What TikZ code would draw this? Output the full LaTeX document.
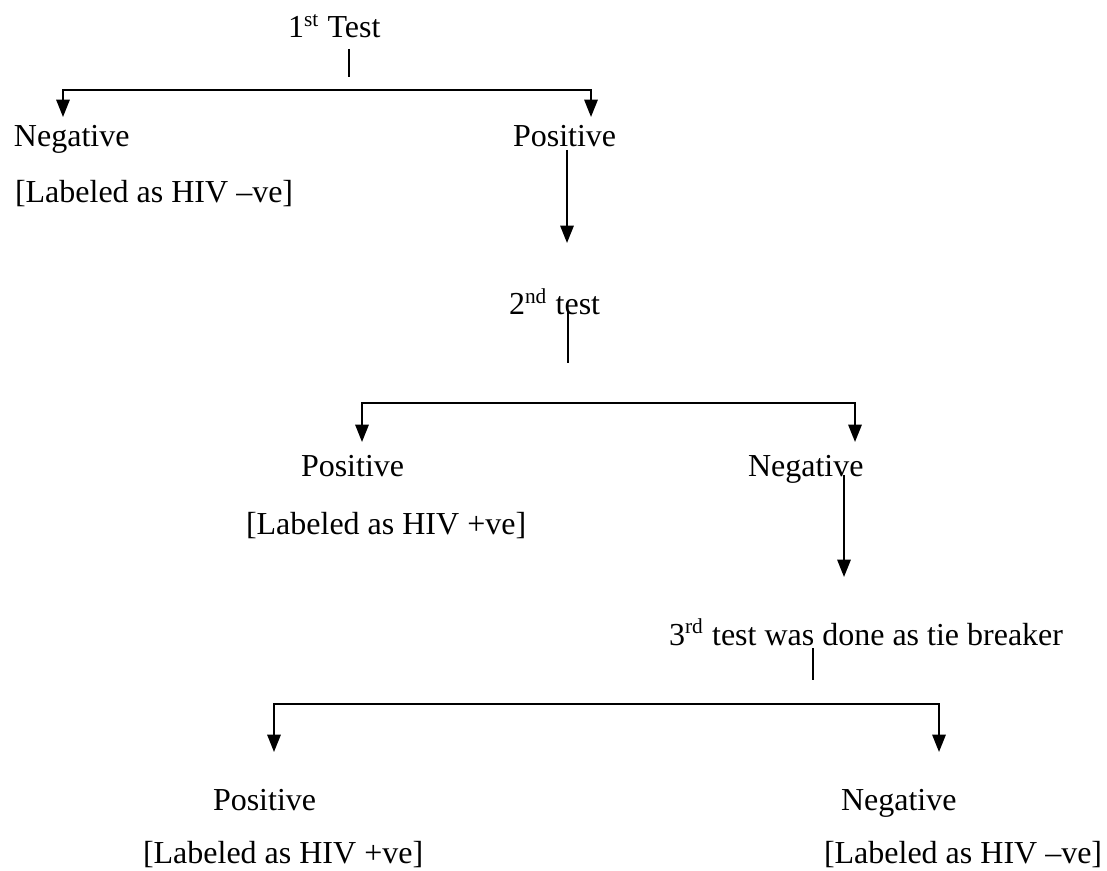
\documentclass[tikz,border=0pt]{standalone}
\usepackage{fontspec}
\setmainfont{Liberation Serif}
\usetikzlibrary{arrows.meta}
\tikzset{
  lbl/.style={anchor=base west,inner sep=0pt,font=\fontsize{12}{14}\selectfont},
  >={Triangle[width=5pt,length=6.5pt]}
}
\begin{document}
\begin{tikzpicture}[x=0.375pt,y=-0.375pt,line width=0.75pt]
  \useasboundingbox (0,0) rectangle (1107,871);
  % first test
  \node[lbl] (test1) at (287,38) {1\textsuperscript{st} Test};
  \node[lbl] (neg1) at (13,147) {Negative};
  \node[lbl] (pos1) at (512,147) {Positive};
  \node[lbl] (lab1) at (14,203) {[Labeled as HIV –ve]};
  \coordinate (s1a) at (349,49);
  \coordinate (s1b) at (349,77);
  \coordinate (bar1) at (349,90);
  \coordinate (t1l) at (63,117);
  \coordinate (t1r) at (591,117);
  \draw (s1a) -- (s1b);
  \draw[<->] (t1l) |- (bar1) -| (t1r);
  \coordinate (p1a) at (567,150);
  \coordinate (p1b) at (567,243);
  \draw[->] (p1a) -- (p1b);
  % second test
  \node[lbl] (test2) at (508,315) {2\textsuperscript{nd} test};
  \node[lbl] (pos2) at (300,477) {Positive};
  \node[lbl] (neg2) at (747,477) {Negative};
  \node[lbl] (lab2) at (245,535) {[Labeled as HIV +ve]};
  \coordinate (s2a) at (568,310);
  \coordinate (s2b) at (568,363);
  \coordinate (bar2) at (568,403);
  \coordinate (t2l) at (362,442);
  \coordinate (t2r) at (855,442);
  \draw (s2a) -- (s2b);
  \draw[<->] (t2l) |- (bar2) -| (t2r);
  \coordinate (n2a) at (844,475);
  \coordinate (n2b) at (844,577);
  \draw[->] (n2a) -- (n2b);
  % third test
  \node[lbl] (test3) at (668,645) {3\textsuperscript{rd} test was done as tie breaker};
  \node[lbl] (pos3) at (212,810) {Positive};
  \node[lbl] (neg3) at (840,810) {Negative};
  \node[lbl] (lab3p) at (142,863) {[Labeled as HIV +ve]};
  \node[lbl] (lab3n) at (823,863) {[Labeled as HIV –ve]};
  \coordinate (s3a) at (813,648);
  \coordinate (s3b) at (813,680);
  \coordinate (bar3) at (813,704);
  \coordinate (t3l) at (274,752);
  \coordinate (t3r) at (939,752);
  \draw (s3a) -- (s3b);
  \draw[<->] (t3l) |- (bar3) -| (t3r);
\end{tikzpicture}
\end{document}
